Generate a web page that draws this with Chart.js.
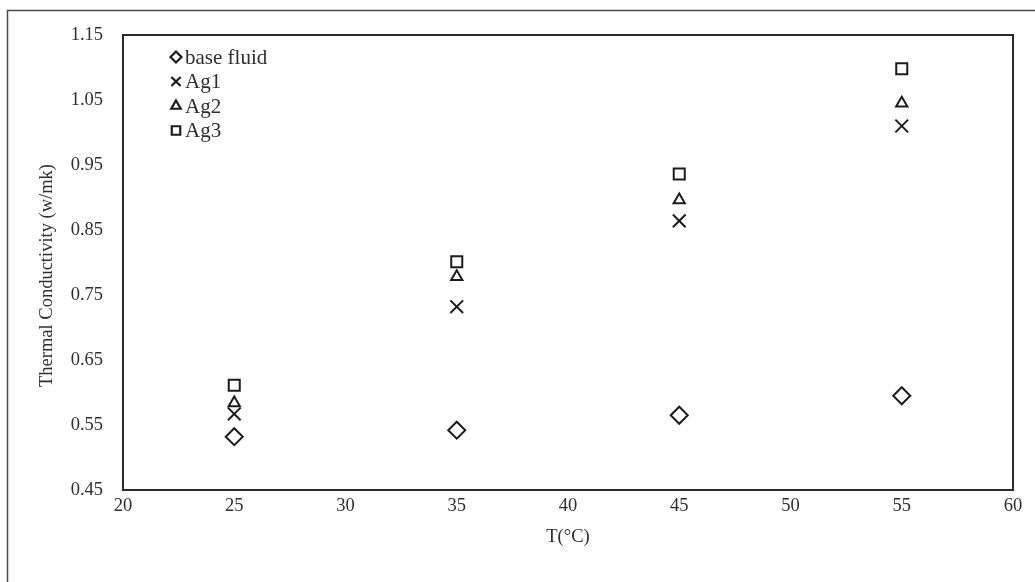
<!DOCTYPE html>
<html>
<head>
<meta charset="utf-8">
<script src="https://cdn.jsdelivr.net/npm/chart.js@4.4.1/dist/chart.umd.min.js"></script>
<style>
  html, body { margin: 0; padding: 0; background: #fff; }
  #wrap { position: relative; width: 1035px; height: 582px; }
  canvas { display: block; }
</style>
</head>
<body>
<div id="wrap"><canvas id="c" width="1035" height="582"></canvas></div>
<script>
// Temperatures (°C) and measured thermal conductivity (W/m·K)
const temperatures = [25, 35, 45, 55];
const baseFluid = [0.532, 0.542, 0.565, 0.595];
const ag1 = [0.567, 0.732, 0.864, 1.010];
const ag2 = [0.584, 0.778, 0.896, 1.045];
const ag3 = [0.611, 0.801, 0.936, 1.098];
const yTicks = [0.45, 0.55, 0.65, 0.75, 0.85, 0.95, 1.05, 1.15];
const xTicks = [20, 25, 30, 35, 40, 45, 50, 55, 60];
const yTitle = 'Thermal Conductivity (w/mk)';
const xTitle = 'T(°C)';

const ink = '#1c1c1c';
const textColor = '#2e2e2e';
const serif = '"Liberation Serif", "Times New Roman", serif';
const fontSize = 18.5;

function toPoints(values) {
  return temperatures.map((t, i) => ({ x: t, y: values[i] }));
}

const series = [
  { label: 'base fluid', data: baseFluid, style: 'rectRot', r: 8.5, legendR: 5.5 },
  { label: 'Ag1', data: ag1, style: 'crossRot', r: 9, legendR: 6.5 },
  { label: 'Ag2', data: ag2, style: 'triangle', r: 6.5, legendR: 5.5 },
  { label: 'Ag3', data: ag3, style: 'rect', r: 7.8, legendR: 6 }
];

// Frames, the vertical axis title and the legend inside the plot
const framePlugin = {
  id: 'frames',
  afterDraw(chart) {
    const { ctx, chartArea: a } = chart;
    ctx.save();
    // page frame (left and top edges)
    ctx.strokeStyle = '#4a4a4a';
    ctx.lineWidth = 1.5;
    ctx.beginPath();
    ctx.moveTo(7.5, 582);
    ctx.lineTo(7.5, 10.5);
    ctx.lineTo(1035, 10.5);
    ctx.stroke();
    // plot box
    ctx.strokeStyle = '#2a2a2a';
    ctx.lineWidth = 2;
    ctx.strokeRect(a.left, a.top, a.right - a.left, a.bottom - a.top);
    // vertical axis title
    ctx.save();
    ctx.translate(47, (a.top + a.bottom) / 2 + 13);
    ctx.rotate(-Math.PI / 2);
    ctx.font = fontSize + 'px ' + serif;
    ctx.fillStyle = textColor;
    ctx.textAlign = 'center';
    ctx.textBaseline = 'middle';
    ctx.fillText(yTitle, 0, 0);
    ctx.restore();
    // legend
    const lx = a.left + 53, ly = a.top + 22, gap = 24.5;
    ctx.font = '21px ' + serif;
    ctx.textBaseline = 'middle';
    ctx.textAlign = 'left';
    chart.data.datasets.forEach((ds, i) => {
      const y = ly + i * gap;
      ctx.strokeStyle = ink;
      ctx.fillStyle = 'rgba(0,0,0,0)';
      ctx.lineWidth = 2.2;
      Chart.helpers.drawPoint(ctx, { pointStyle: ds.pointStyle, radius: series[i].legendR, rotation: 0, borderWidth: 2.2 }, lx, y);
      ctx.fillStyle = textColor;
      ctx.fillText(ds.label, lx + 9, y + 1);
    });
    ctx.restore();
  }
};

new Chart(document.getElementById('c'), {
  type: 'scatter',
  data: {
    datasets: series.map(s => ({
      label: s.label,
      data: toPoints(s.data),
      pointStyle: s.style,
      pointRadius: s.r,
      pointHoverRadius: s.r,
      pointBorderWidth: 2,
      pointBorderColor: ink,
      pointBackgroundColor: 'rgba(0,0,0,0)',
      showLine: false
    }))
  },
  options: {
    responsive: false,
    animation: false,
    events: [],
    layout: { padding: { left: 0, top: 35, right: 22, bottom: 34 } },
    plugins: { legend: { display: false }, tooltip: { enabled: false } },
    scales: {
      x: {
        type: 'linear',
        min: 20, max: 60,
        afterBuildTicks(scale) { scale.ticks = xTicks.map(v => ({ value: v })); },
        afterFit(scale) { scale.height = 58; },
        grid: { display: false, drawTicks: false },
        border: { display: false },
        ticks: { color: textColor, font: { family: serif, size: fontSize }, padding: 5, maxRotation: 0 },
        title: { display: true, text: xTitle, color: textColor, font: { family: serif, size: fontSize }, padding: 0 }
      },
      y: {
        type: 'linear',
        min: 0.45, max: 1.15,
        afterBuildTicks(scale) { scale.ticks = yTicks.map(v => ({ value: v })); },
        afterFit(scale) { scale.width = 123; },
        grid: { display: false, drawTicks: false },
        border: { display: false },
        ticks: { color: textColor, font: { family: serif, size: fontSize }, padding: 20, callback: v => Number(v).toFixed(2) },
        title: { display: false }
      }
    }
  },
  plugins: [framePlugin]
});
</script>
</body>
</html>
